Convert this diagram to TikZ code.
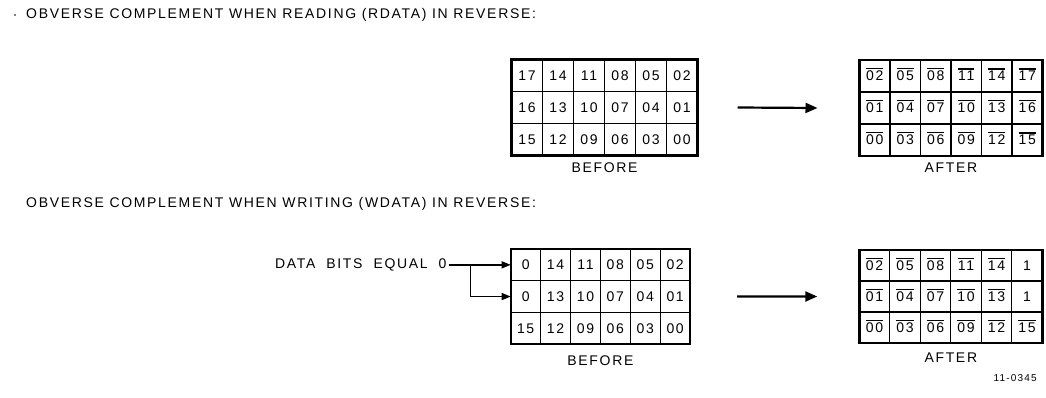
\documentclass[tikz,border=0pt]{standalone}
\usepackage{fontspec}
\setmainfont{Liberation Sans}[LetterSpace=12]
\usetikzlibrary{arrows.meta,positioning}
\newcommand{\ov}[1]{\vbox{\hrule height 1.3pt\kern 1.8pt\hbox{#1}}}
% grid of bit cells: name, left, top, cell width, cell height, rows
\newcommand{\datagrid}[6]{
  \foreach \row [count=\rw] in {#6}
    \foreach \t [count=\col] in \row
      \node[cell, minimum width=#4pt, minimum height=#5pt]
        (#1-\rw-\col) at ({#2+#4*(\col-0.5)},{#3+#5*(\rw-0.5)}) {\t};
  \draw[frame] (#1-1-1.north west) rectangle (#1-3-6.south east);
}

\begin{document}
\begin{tikzpicture}[x=1pt,y=-1pt,>={Triangle[length=12pt,width=10pt]},
  cell/.style={draw,line width=1.3pt,inner sep=0pt,outer sep=0pt,
    text height=10pt,text depth=0pt,font=\fontsize{14}{15}\selectfont},
  frame/.style={line width=2.4pt},
  caption/.style={inner sep=0pt,font=\fontsize{14}{15}\selectfont},
  wide arrow/.style={->,line width=2.2pt},
  feed/.style={-{Triangle[length=9pt,width=7pt]},line width=1.4pt}]
\fill[white] (0,0) rectangle (1046,398);

% The headings
\fill (15,15) circle (0.9pt);
\node[caption, anchor=west] (hread) at (26,15)
  {OBVERSE COMPLEMENT WHEN READING (RDATA) IN REVERSE:};
\node[caption, anchor=west] (hwrite) at (26,204)
  {OBVERSE COMPLEMENT WHEN WRITING (WDATA) IN REVERSE:};

% Reading
\datagrid{tb}{511.5}{59.5}{31}{32}{{17,14,11,08,05,02},{16,13,10,07,04,01},{15,12,09,06,03,00}}
\datagrid{ta}{859.5}{60}{30.5}{32}{{\ov{02},\ov{05},\ov{08},\ov{11},\ov{14},\ov{17}},
  {\ov{01},\ov{04},\ov{07},\ov{10},\ov{13},\ov{16}},{\ov{00},\ov{03},\ov{06},\ov{09},\ov{12},\ov{15}}}
\node[caption, below=7pt of tb-3-3.south east] (tbcap) {BEFORE};
\node[caption, below=7pt of ta-3-3.south east] (tacap) {AFTER};
\draw[wide arrow] ([xshift=40pt]tb-2-6.east) -- ([xshift=-42pt]ta-2-1.west);

% Writing
\datagrid{bb}{510.7}{249}{29.9}{31.7}{{0,14,11,08,05,02},{0,13,10,07,04,01},{15,12,09,06,03,00}}
\datagrid{ba}{859.3}{250}{30.5}{31}{{\ov{02},\ov{05},\ov{08},\ov{11},\ov{14},1},
  {\ov{01},\ov{04},\ov{07},\ov{10},\ov{13},1},{\ov{00},\ov{03},\ov{06},\ov{09},\ov{12},\ov{15}}}
\node[caption, below=11pt of bb-3-3.south east] (bbcap) {BEFORE};
\node[caption, below=10pt of ba-3-3.south east] (bacap) {AFTER};
\draw[wide arrow] ([xshift=47pt]bb-2-6.east) -- ([xshift=-42pt]ba-2-1.west);

\node[caption, left=64pt of bb-1-1.west, execute at begin node={\spaceskip=11pt}] (bits) {DATA BITS EQUAL 0};
\draw[feed] ([xshift=2pt]bits.east) -- (bb-1-1.west);
\draw[feed] ([xshift=23.5pt]bits.east) |- (bb-2-1.west);

\node[anchor=east, inner sep=0pt, font=\fontsize{10}{11}\selectfont] (code) at (1037,378) {11-0345};
\end{tikzpicture}
\end{document}
